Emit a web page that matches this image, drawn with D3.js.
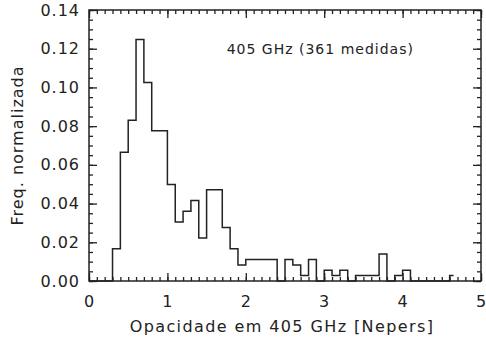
<!DOCTYPE html>
<html>
<head>
<meta charset="utf-8">
<script src="https://cdn.jsdelivr.net/npm/d3@7"></script>
<style>
  body { margin: 0; background: #fff; }
  svg text { font-family: "DejaVu Sans", sans-serif; fill: #222; }
</style>
</head>
<body>
<svg id="chart" width="486" height="340"></svg>
<script>
// histogram bins (left edge, Nepers) and normalized frequency
var binStart = [0.0, 0.1, 0.2, 0.3, 0.4, 0.5, 0.6, 0.7, 0.8, 0.9,
                1.0, 1.1, 1.2, 1.3, 1.4, 1.5, 1.6, 1.7, 1.8, 1.9,
                2.0, 2.1, 2.2, 2.3, 2.4, 2.5, 2.6, 2.7, 2.8, 2.9,
                3.0, 3.1, 3.2, 3.3, 3.4, 3.5, 3.6, 3.7, 3.8, 3.9,
                4.0, 4.1, 4.2, 4.3, 4.4, 4.5, 4.6];
var freq = [0, 0, 0, 0.0166, 0.0665, 0.0831, 0.1247, 0.1025, 0.0776, 0.0776,
            0.0499, 0.0305, 0.0360, 0.0416, 0.0222, 0.0471, 0.0471, 0.0277, 0.0166, 0.0083,
            0.0111, 0.0111, 0.0111, 0.0111, 0, 0.0111, 0.0083, 0.0028, 0.0111, 0,
            0.0055, 0.0028, 0.0055, 0, 0.0028, 0.0028, 0.0028, 0.0139, 0, 0.0028,
            0.0055, 0, 0, 0, 0, 0, 0.0028];
var lastEdge = 4.65;

var xTicks = [0, 1, 2, 3, 4, 5];
var yTicks = [0.00, 0.02, 0.04, 0.06, 0.08, 0.10, 0.12, 0.14];
var xMinorStep = 0.1;
var yMinorStep = 0.005;

var xTitle = 'Opacidade em 405 GHz [Nepers]';
var yTitle = 'Freq. normalizada';
var note = '405 GHz (361 medidas)';

(function() {
  var svg = d3.select('#chart');
  var margin = { left: 89, right: 5, top: 10, bottom: 59 };
  var width = 486 - margin.left - margin.right;
  var height = 340 - margin.top - margin.bottom;

  var g = svg.append('g')
    .attr('transform', 'translate(' + margin.left + ',' + margin.top + ')');

  var x = d3.scaleLinear().domain([0, 5]).range([0, width]);
  var y = d3.scaleLinear().domain([0, 0.14]).range([height, 0]);

  var xMinor = d3.range(0, 5 + 1e-9, xMinorStep);
  var yMinor = d3.range(0, 0.14 + 1e-9, yMinorStep);

  function styleAxis(sel) {
    sel.select('.domain').remove();
    sel.selectAll('line').attr('stroke', '#222').attr('stroke-width', 1.3);
    sel.selectAll('text')
      .attr('font-size', 16)
      .attr('letter-spacing', 1)
      .attr('fill', '#222')
      .style('font-family', '"DejaVu Sans", sans-serif');
  }

  // minor ticks, all four sides, pointing inward
  g.append('g')
    .attr('transform', 'translate(0,' + height + ')')
    .call(d3.axisBottom(x).tickValues(xMinor).tickSize(-4).tickFormat(''))
    .call(styleAxis);
  g.append('g')
    .call(d3.axisTop(x).tickValues(xMinor).tickSize(-4).tickFormat(''))
    .call(styleAxis);
  g.append('g')
    .call(d3.axisLeft(y).tickValues(yMinor).tickSize(-4).tickFormat(''))
    .call(styleAxis);
  g.append('g')
    .attr('transform', 'translate(' + width + ',0)')
    .call(d3.axisRight(y).tickValues(yMinor).tickSize(-4).tickFormat(''))
    .call(styleAxis);

  // major ticks
  g.append('g')
    .attr('transform', 'translate(0,' + height + ')')
    .call(d3.axisBottom(x).tickValues(xTicks).tickSize(-8).tickPadding(15)
      .tickFormat(d3.format('d')))
    .call(styleAxis);
  g.append('g')
    .call(d3.axisTop(x).tickValues(xTicks).tickSize(-8).tickFormat(''))
    .call(styleAxis);
  g.append('g')
    .call(d3.axisLeft(y).tickValues(yTicks).tickSize(-8).tickPadding(9)
      .tickFormat(d3.format('.2f')))
    .call(styleAxis);
  g.append('g')
    .attr('transform', 'translate(' + width + ',0)')
    .call(d3.axisRight(y).tickValues(yTicks).tickSize(-8).tickFormat(''))
    .call(styleAxis);

  // frame
  g.append('rect')
    .attr('width', width)
    .attr('height', height)
    .attr('fill', 'none')
    .attr('stroke', '#222')
    .attr('stroke-width', 1.5);

  // histogram outline
  var pts = binStart.map(function(d, i) { return [d, freq[i]]; });
  pts.push([lastEdge, freq[freq.length - 1]]);

  var line = d3.line()
    .x(function(d) { return x(d[0]); })
    .y(function(d) { return y(d[1]); })
    .curve(d3.curveStepAfter);

  g.append('path')
    .datum(pts)
    .attr('d', line)
    .attr('fill', 'none')
    .attr('stroke', '#222')
    .attr('stroke-width', 1.5);

  g.append('text')
    .attr('x', x(2.95))
    .attr('y', y(0.1175))
    .attr('text-anchor', 'middle')
    .attr('font-size', 14)
    .attr('letter-spacing', 1)
    .text(note);

  svg.append('text')
    .attr('x', margin.left + width / 2 - 3)
    .attr('y', 332)
    .attr('text-anchor', 'middle')
    .attr('font-size', 16)
    .attr('letter-spacing', 1.4)
    .text(xTitle);

  svg.append('text')
    .attr('transform', 'translate(23,' + (margin.top + height / 2) + ') rotate(-90)')
    .attr('text-anchor', 'middle')
    .attr('font-size', 16)
    .attr('letter-spacing', 1)
    .text(yTitle);
})();
</script>
</body>
</html>
